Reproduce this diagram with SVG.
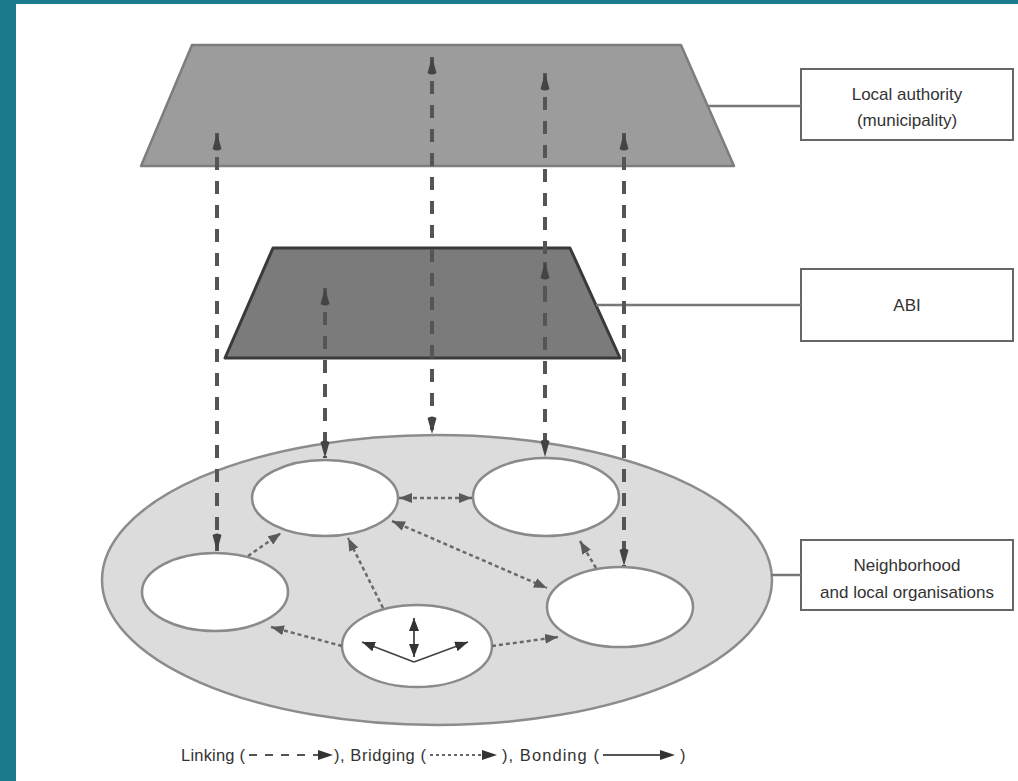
<svg xmlns="http://www.w3.org/2000/svg" width="1018" height="781" viewBox="0 0 1018 781">
<style>
.lab{font-family:"Liberation Sans",Arial,sans-serif;font-size:17px;fill:#333;text-anchor:middle}
.leg{font-family:"Liberation Sans",Arial,sans-serif;font-size:16.5px;fill:#333}
.box{fill:#fff;stroke:#666;stroke-width:2}
.tie{stroke:#777;stroke-width:2.5;fill:none}
.lk{stroke:#555;stroke-width:4;stroke-dasharray:13 11;fill:none}
.br{stroke:#6a6a6a;stroke-width:2.5;stroke-dasharray:4 3;fill:none}
.bd{stroke:#444;stroke-width:1.8;fill:none}
.small{fill:#fff;stroke:#8a8a8a;stroke-width:2.5}
</style>
<defs>
<marker id="mlk" markerUnits="userSpaceOnUse" markerWidth="20" markerHeight="12" viewBox="0 0 20 12" refX="18" refY="6" orient="auto-start-reverse">
<path d="M18,6 L2,1.5 Q-1,6 2,10.5 Z" fill="#444"/>
</marker>
<marker id="mbr" markerUnits="userSpaceOnUse" markerWidth="14" markerHeight="10" viewBox="0 0 14 10" refX="13" refY="5" orient="auto-start-reverse">
<path d="M13,5 L0,0 L0,10 Z" fill="#5a5a5a"/>
</marker>
<marker id="mbd" markerUnits="userSpaceOnUse" markerWidth="14" markerHeight="10" viewBox="0 0 14 10" refX="13" refY="5" orient="auto-start-reverse">
<path d="M13,5 L0,0 L0,10 Z" fill="#333"/>
</marker>
</defs>
<rect x="0" y="0" width="1018" height="781" fill="#1a7c8c"/>
<rect x="16" y="4" width="1002" height="777" fill="#fff"/>

<g id="local-authority">
<polygon points="192,45 681,45 734,166 141,166" fill="#9c9c9c" stroke="#7d7d7d" stroke-width="2.5" stroke-linejoin="round"/>
</g>
<g id="abi">
<polygon points="273,248 570,248 620,358 225,358" fill="#7b7b7b" stroke="#3a3a3a" stroke-width="3" stroke-linejoin="round"/>
</g>
<g id="neighborhood">
<ellipse cx="437" cy="580" rx="335" ry="145" fill="#dcdcdc" stroke="#8c8c8c" stroke-width="2.5"/>
</g>
<g id="org-top-left"><ellipse class="small" cx="325" cy="498" rx="73" ry="38"/></g>
<g id="org-top-right"><ellipse class="small" cx="546" cy="497" rx="73" ry="39"/></g>
<g id="org-left"><ellipse class="small" cx="215" cy="592" rx="73" ry="39"/></g>
<g id="org-right"><ellipse class="small" cx="620" cy="607" rx="73" ry="40"/></g>
<g id="org-bottom"><ellipse class="small" cx="417" cy="646" rx="75" ry="41"/></g>

<g id="box-local-authority">
<rect class="box" x="801" y="69" width="212" height="71"/>
<text class="lab" x="907" y="100">Local authority</text>
<text class="lab" x="907" y="126">(municipality)</text>
</g>
<g id="box-abi">
<rect class="box" x="801" y="269" width="212" height="72"/>
<text class="lab" x="907" y="311">ABI</text>
</g>
<g id="box-neighborhood">
<rect class="box" x="801" y="540" width="212" height="70"/>
<text class="lab" x="907" y="571">Neighborhood</text>
<text class="lab" x="907" y="598">and local organisations</text>
</g>

<g id="connectors">
<line class="tie" x1="708" y1="106" x2="801" y2="106"/>
<line class="tie" x1="596" y1="305" x2="801" y2="305"/>
<line class="tie" x1="771" y1="575" x2="801" y2="575"/>

<line class="lk" x1="217" y1="133" x2="217" y2="551" marker-start="url(#mlk)" marker-end="url(#mlk)"/>
<line class="lk" x1="432" y1="57" x2="432" y2="434" marker-start="url(#mlk)" marker-end="url(#mlk)"/>
<line class="lk" x1="545" y1="73" x2="545" y2="457" marker-start="url(#mlk)" marker-end="url(#mlk)"/>
<line class="lk" x1="545" y1="262" x2="545" y2="300" marker-start="url(#mlk)"/>
<line class="lk" x1="325" y1="288" x2="325" y2="458" marker-start="url(#mlk)" marker-end="url(#mlk)"/>
<line class="lk" x1="624" y1="133" x2="624" y2="566" marker-start="url(#mlk)" marker-end="url(#mlk)"/>

<line class="br" x1="248" y1="556" x2="281" y2="533" marker-end="url(#mbr)"/>
<line class="br" x1="383" y1="608" x2="348" y2="538" marker-end="url(#mbr)"/>
<line class="br" x1="399" y1="498" x2="472" y2="498" marker-start="url(#mbr)" marker-end="url(#mbr)"/>
<line class="br" x1="392" y1="521" x2="547" y2="588" marker-start="url(#mbr)" marker-end="url(#mbr)"/>
<line class="br" x1="596" y1="568" x2="580" y2="541" marker-end="url(#mbr)"/>
<line class="br" x1="342" y1="646" x2="271" y2="627" marker-end="url(#mbr)"/>
<line class="br" x1="492" y1="646" x2="558" y2="637" marker-end="url(#mbr)"/>

<line class="bd" x1="414" y1="618" x2="414" y2="657" marker-start="url(#mbd)" marker-end="url(#mbd)"/>
<line class="bd" x1="414" y1="662" x2="362" y2="642" marker-end="url(#mbd)"/>
<line class="bd" x1="414" y1="662" x2="468" y2="642" marker-end="url(#mbd)"/>
</g>

<g id="legend">
<text class="leg" x="181" y="761" textLength="64">Linking (</text>
<line x1="249" y1="755" x2="320" y2="755" stroke="#555" stroke-width="2" stroke-dasharray="8 8"/>
<path d="M333,755 L318,750 L318,760 Z" fill="#333"/>
<text class="leg" x="334" y="761" textLength="92">), Bridging (</text>
<line x1="430" y1="755" x2="484" y2="755" stroke="#666" stroke-width="2" stroke-dasharray="3 3"/>
<path d="M497,755 L482,750 L482,760 Z" fill="#333"/>
<text class="leg" x="502" y="761" textLength="97">), Bonding (</text>
<line x1="603" y1="755" x2="662" y2="755" stroke="#555" stroke-width="2"/>
<path d="M675,755 L660,750 L660,760 Z" fill="#333"/>
<text class="leg" x="680" y="761">)</text>
</g>
</svg>
